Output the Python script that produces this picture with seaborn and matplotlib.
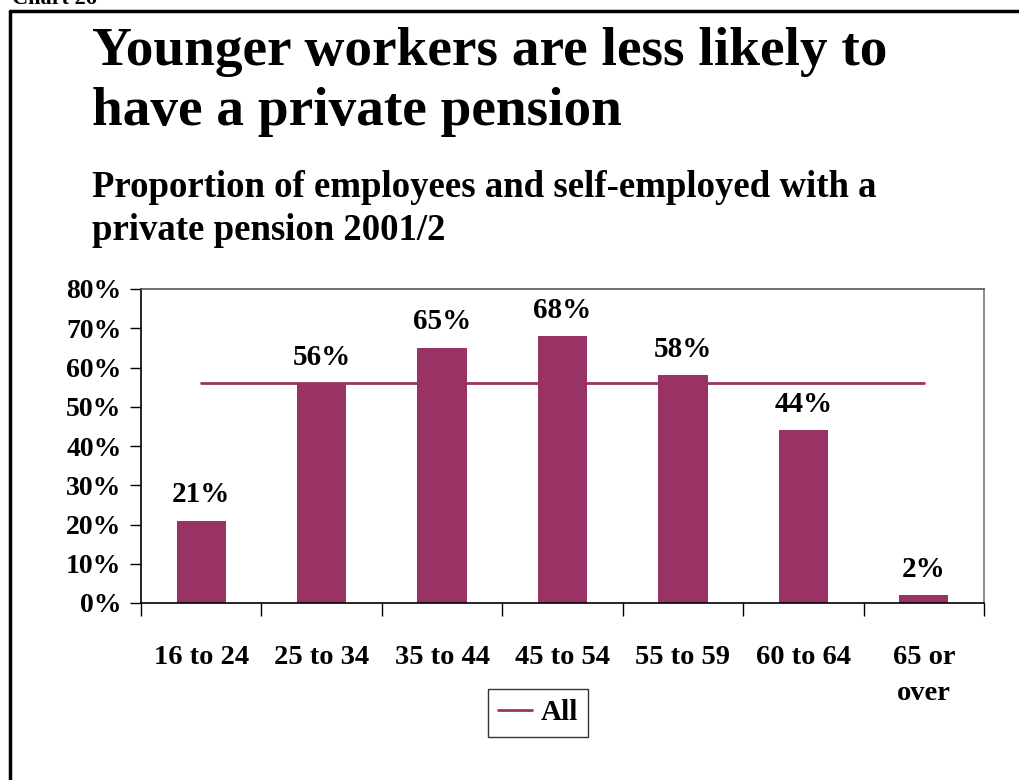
import matplotlib
matplotlib.use("Agg")
import matplotlib.pyplot as plt
import seaborn as sns
import pandas as pd
from matplotlib.lines import Line2D

# Data: share with a private pension by age group, 2001/2
age_groups = ["16 to 24", "25 to 34", "35 to 44", "45 to 54", "55 to 59", "60 to 64", "65 or\nover"]
pension_pct = [21, 56, 65, 68, 58, 44, 2]
all_ages_pct = 56
y_ticks = [0, 10, 20, 30, 40, 50, 60, 70, 80]

bar_color = "#993366"
serif = ["Liberation Serif", "DejaVu Serif"]

sns.set_theme(style="white")
plt.rcParams["font.family"] = serif
plt.rcParams["font.weight"] = "bold"
plt.rcParams["text.color"] = "black"
plt.rcParams["xtick.color"] = "black"
plt.rcParams["ytick.color"] = "black"

df = pd.DataFrame({"age": age_groups, "pct": pension_pct})

fig = plt.figure(figsize=(10.2, 7.8), dpi=100)
ax = fig.add_axes([141 / 1020, 1 - 603 / 780, (984 - 141) / 1020, (603 - 289) / 780])

sns.barplot(data=df, x="age", y="pct", color=bar_color, saturation=1,
            width=0.41, ax=ax, edgecolor="none")

# Average across all ages, drawn across the category centres
sns.lineplot(x=list(range(len(age_groups))), y=[all_ages_pct] * len(age_groups),
             color=bar_color, linewidth=2, ax=ax, legend=False)

ax.set_xlim(-0.5, len(age_groups) - 0.5)
ax.set_ylim(0, 80)
ax.set_yticks(y_ticks)
ax.set_yticklabels([f"{t}%" for t in y_ticks])
ax.set_xlabel("")
ax.set_ylabel("")

# value labels above bars
for i, v in enumerate(pension_pct):
    ax.annotate(f"{v}%", (i, v), xytext=(0, 9), textcoords="offset points",
                ha="center", va="bottom", fontsize=21, fontweight="bold",
                family=serif, color="black")

# spines and ticks
for side in ["left", "right", "top", "bottom"]:
    ax.spines[side].set_visible(True)
    ax.spines[side].set_linewidth(1.2)
ax.spines["left"].set_color("black")
ax.spines["bottom"].set_color("black")
ax.spines["top"].set_color("#555555")
ax.spines["right"].set_color("#777777")

ax.tick_params(axis="y", which="major", direction="out", length=8, width=1,
               color="black", left=True, labelsize=20, pad=6)
ax.set_xticks(range(len(age_groups)))
ax.set_xticklabels(age_groups, fontsize=20.5, fontweight="bold", linespacing=1.6)
ax.tick_params(axis="x", which="major", length=0, pad=30, labelsize=20.5)
# category boundary ticks
ax.set_xticks([i - 0.5 for i in range(len(age_groups) + 1)], minor=True)
ax.tick_params(axis="x", which="minor", direction="out", length=9, width=1,
               color="black", bottom=True)
for lbl in ax.get_yticklabels() + ax.get_xticklabels():
    lbl.set_fontweight("bold")
    lbl.set_family(serif)
    lbl.set_color("black")
for lbl in ax.get_xticklabels():
    lbl.set_verticalalignment("top")

# legend
handle = Line2D([], [], color=bar_color, linewidth=2)
leg = fig.legend([handle], ["All"], loc="center", bbox_to_anchor=(538 / 1020, 1 - 713 / 780),
                 frameon=True, fancybox=False, handlelength=1.15, handletextpad=0.3,
                 borderpad=0.35, prop={"family": serif, "weight": "bold", "size": 21})
leg.get_frame().set_edgecolor("black")
leg.get_frame().set_linewidth(1.0)

# titles
title_lines = ["Younger workers are less likely to", "have a private pension"]
for text, base_y in zip(title_lines, [65, 125]):
    fig.text(92 / 1020, 1 - base_y / 780, text, ha="left", va="baseline",
             fontsize=39.8, fontweight="bold", family=serif, color="black")
subtitle_lines = ["Proportion of employees and self-employed with a", "private pension 2001/2"]
for text, base_y in zip(subtitle_lines, [197, 240]):
    fig.text(92 / 1020, 1 - base_y / 780, text, ha="left", va="baseline",
             fontsize=26.5, fontweight="bold", family=serif, color="black")

# page header and frame
fig.text(12 / 1020, 1 - 4 / 780, "Chart 26", ha="left", va="baseline",
         fontsize=16, fontweight="bold", family=serif, color="black")
fig.add_artist(Line2D([10 / 1020, 1.0], [1 - 11 / 780, 1 - 11 / 780],
                      transform=fig.transFigure, color="black", linewidth=2.5))
fig.add_artist(Line2D([10 / 1020, 10 / 1020], [1 - 11 / 780, 0],
                      transform=fig.transFigure, color="black", linewidth=2.5))

fig.savefig("out.png", dpi=100, facecolor="white")
